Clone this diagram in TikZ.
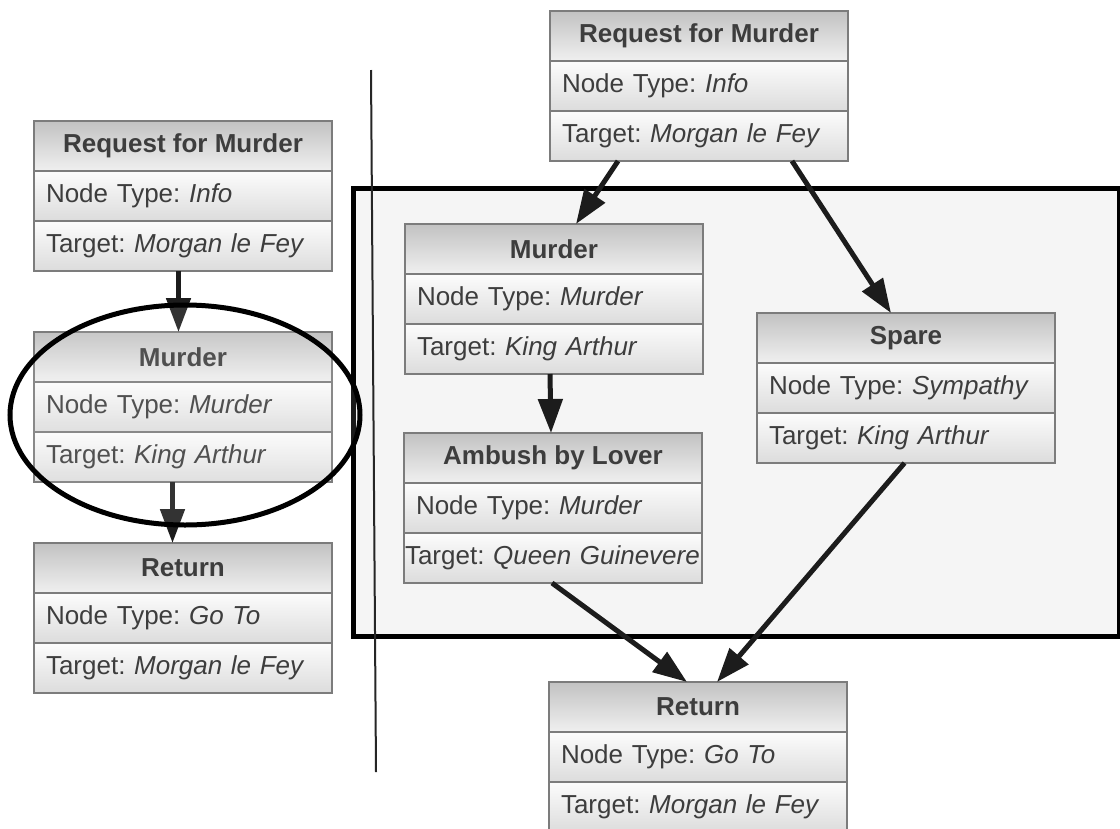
\documentclass[tikz,border=0pt]{standalone}
\usepackage{fontspec}
\setmainfont{Liberation Sans}
\usetikzlibrary{arrows.meta,shapes.geometric}
\frenchspacing
\definecolor{txt}{HTML}{3D3D3D}
\definecolor{bordc}{HTML}{7C7C7C}
\definecolor{hdtop}{HTML}{C2C2C2}
\definecolor{hdbot}{HTML}{F0F0F0}
\definecolor{rowtop}{HTML}{FCFCFC}
\definecolor{rowbot}{HTML}{DCDCDC}
\definecolor{groupfill}{HTML}{F5F5F5}
\definecolor{arrowc}{HTML}{1C1C1C}
\tikzset{
  boxframe/.style={rectangle, draw=none, minimum width=298pt, minimum height=150pt, inner sep=0pt, outer sep=0pt},
  hdrrow/.style={rectangle, draw=bordc, line width=1.5pt, top color=hdtop, bottom color=hdbot,
    minimum width=298pt, minimum height=50pt, inner sep=0pt, outer sep=0pt, text=txt,
    font=\bfseries\fontsize{26}{30}\selectfont},
  bodyrow/.style={rectangle, draw=bordc, line width=1.5pt, top color=rowtop, bottom color=rowbot,
    text width=274pt, inner xsep=12pt, inner ysep=0pt, minimum height=50pt, outer sep=0pt,
    align=left, text=txt, font=\fontsize{26}{30}\selectfont},
  flowarrow/.style={draw=arrowc, line width=5pt, -{Triangle[length=34pt,width=24pt]}},
}
\newcommand{\umlbox}[7][]{%
  \node[boxframe, anchor=north west] (#2) at (#3,#4) {};
  \node[hdrrow, anchor=north] (#2-h) at (#2.north) {#5};
  \node[bodyrow, anchor=north] (#2-t) at (#2-h.south) {\mbox{Node Type: \textit{#6}}};
  \node[bodyrow, anchor=north, #1] (#2-g) at (#2-t.south) {\mbox{Target: \textit{#7}}};
}
\begin{document}
\begin{tikzpicture}[x=1pt,y=-1pt]
\path[use as bounding box, clip] (0,0) rectangle (1120,828);
\fill[white] (0,0) rectangle (1120,828);

% grouped region
\node[rectangle, draw=black, line width=5pt, fill=groupfill, minimum width=766pt, minimum height=448pt,
      inner sep=0pt, anchor=north west] (group) at (351,186) {};

% separator
\coordinate (vtop) at (371,70);
\coordinate (vbot) at (376,772);
\draw[line width=2pt, black!85] (vtop) -- (vbot);

% left column
\umlbox{l1}{34}{121}{Request for Murder}{Info}{Morgan le Fey}
\umlbox{l2}{34}{332}{Murder}{Murder}{King Arthur}
\umlbox{l3}{34}{543}{Return}{Go To}{Morgan le Fey}

% right column
\umlbox{r1}{550}{11}{Request for Murder}{Info}{Morgan le Fey}
\umlbox{r2}{405}{224}{Murder}{Murder}{King Arthur}
\umlbox{r3}{757}{313}{Spare}{Sympathy}{King Arthur}
\umlbox[inner xsep=1pt, text width=296pt]{r4}{404}{433}{Ambush by Lover}{Murder}{Queen Guinevere}
\umlbox{r5}{549}{682}{Return}{Go To}{Morgan le Fey}

% arrows
\draw[flowarrow] ([xshift=-4.5pt]l1.south) -- ([xshift=-4.5pt]l2.north);
\draw[flowarrow] ([xshift=-10.5pt]l2.south) -- ([xshift=-10.5pt]l3.north);
\draw[flowarrow] ([xshift=-81pt]r1.south) -- ([xshift=22pt]r2.north);
\draw[flowarrow] ([xshift=93pt]r1.south) -- ([xshift=-15pt]r3.north);
\draw[flowarrow] ([xshift=-4pt]r2.south) -- ([xshift=-2pt]r4.north);
\draw[flowarrow] ([xshift=-1pt]r4.south) -- ([xshift=-11pt]r5.north);
\draw[flowarrow] ([xshift=-1.5pt]r3.south) -- ([xshift=19pt]r5.north);

% highlight ellipse
\node[ellipse, draw=black, line width=5pt, fill=white, fill opacity=0.1, minimum width=350pt,
      minimum height=220pt, inner sep=0pt] (focus) at (185,415) {};
\end{tikzpicture}
\end{document}
